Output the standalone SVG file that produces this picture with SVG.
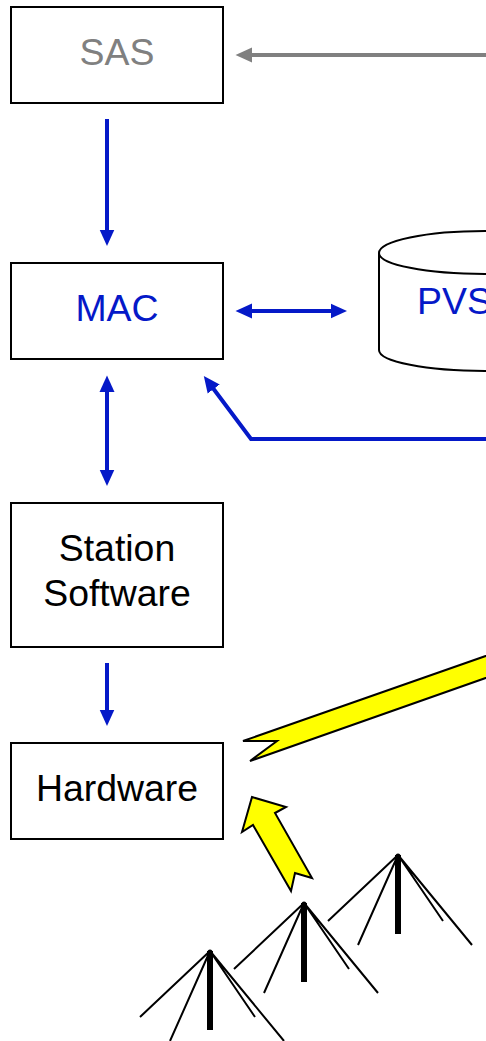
<svg xmlns="http://www.w3.org/2000/svg" width="486" height="1041" viewBox="0 0 486 1041">
<style>
.box{fill:#fff;stroke:#000;stroke-width:2}
.t{font-family:"Liberation Sans",Arial,sans-serif;font-size:37.4px;text-anchor:middle;fill:#000}
.b{fill:#0519c8}
.g{fill:#808080}
.c{fill:none;stroke:#0519c8;stroke-width:4}
.y{fill:#ff0;stroke:#000;stroke-width:2;stroke-linejoin:miter}
.leg{fill:none;stroke:#000;stroke-width:2}
.mast{fill:#000}
</style>
<defs>
<marker id="ab" markerUnits="userSpaceOnUse" markerWidth="17" markerHeight="16" refX="2" refY="8" orient="auto-start-reverse"><path d="M0 0.5L16.5 8L0 15.5Z" fill="#0519c8"/></marker>
<marker id="ag" markerUnits="userSpaceOnUse" markerWidth="17" markerHeight="16" refX="2" refY="8" orient="auto"><path d="M0 0.5L16.5 8L0 15.5Z" fill="#808080"/></marker>
<g id="ant"><path class="leg" d="M0 0L-70 66M0 0L-40 90M0 0L45 66M0 0L74 90"/><rect class="mast" x="-3" y="0" width="6" height="79"/><circle class="mast" cx="0" cy="1" r="2.5"/></g>
</defs>
<g id="connectors">
<path d="M486 55H250" fill="none" stroke="#808080" stroke-width="4" marker-end="url(#ag)"/>
<path class="c" d="M107 119V231.5" marker-end="url(#ab)"/>
<path class="c" d="M250 311H332.500" marker-start="url(#ab)" marker-end="url(#ab)"/>
<path class="c" d="M107 390V471.500" marker-start="url(#ab)" marker-end="url(#ab)"/>
<path class="c" d="M107 663V711.500" marker-end="url(#ab)"/>
<path class="c" d="M486 439H251L212.500 387.500" marker-end="url(#ab)"/>
</g>
<g id="sas"><rect class="box" x="11" y="7" width="212" height="96"/><text class="t g" x="117" y="65">SAS</text></g>
<g id="mac"><rect class="box" x="11" y="263" width="212" height="96"/><text class="t b" x="117" y="321">MAC</text></g>
<g id="station"><rect class="box" x="11" y="503" width="212" height="144"/><text class="t" x="117" y="561">Station</text><text class="t" x="117" y="606">Software</text></g>
<g id="hardware"><rect class="box" x="11" y="743" width="212" height="96"/><text class="t" x="117" y="801">Hardware</text></g>
<g id="pvs"><path d="M591 253V350A106 21 0 0 1 379 350V253A106 22 0 0 1 591 253A106 21 0 0 1 379 253" fill="#fff" stroke="#000" stroke-width="2"/><text class="t b" style="text-anchor:start" x="417" y="314">PVS</text></g>
<g id="uplink"><path class="y" d="M243 741H277L250 761L500 673V651Z"/></g>
<g id="field-arrow"><path class="y" d="M252 797L286 807L275 813L312 878L295 873L291 891L253 825L242 832Z"/></g>
<g id="antenna-1"><use href="#ant" x="398" y="855"/></g>
<g id="antenna-2"><use href="#ant" x="304" y="903"/></g>
<g id="antenna-3"><use href="#ant" x="210" y="951"/></g>
</svg>
